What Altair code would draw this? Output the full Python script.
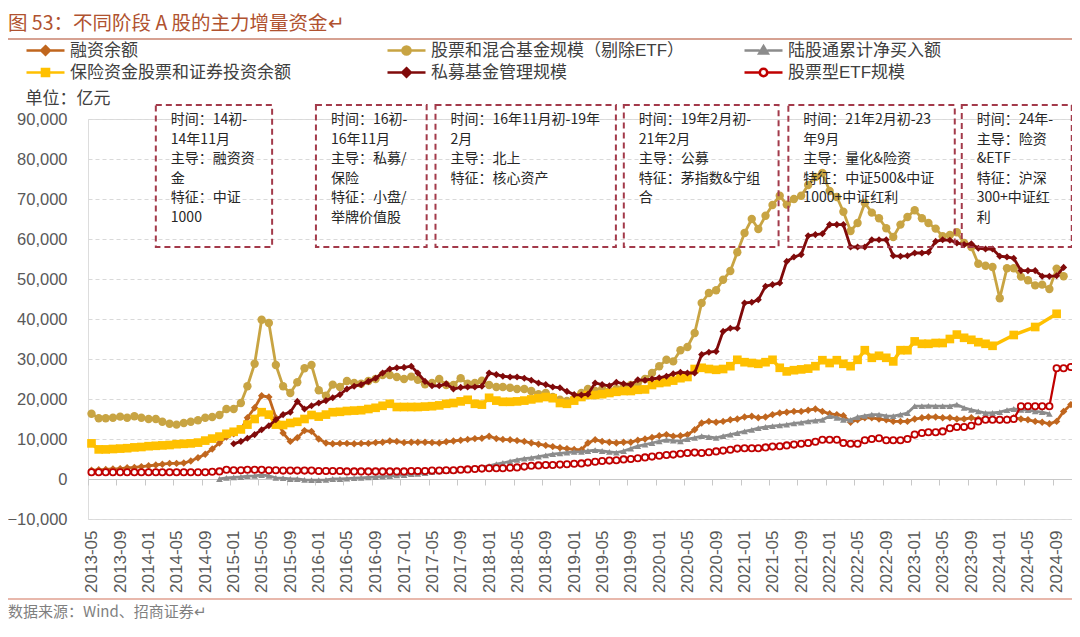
import altair as alt
import pandas as pd

CJK = "Noto Sans CJK SC"
LAT = "Liberation Sans, Noto Sans CJK SC"

# ---------------- data ----------------
months = pd.date_range("2013-05-01", "2024-11-01", freq="MS")

series_names = ["融资余额", "股票和混合基金规模（剔除ETF）", "陆股通累计净买入额",
                "保险资金股票和证券投资余额", "私募基金管理规模", "股票型ETF规模"]
series_colors = ["#C0661E", "#C8A443", "#8C8C8C", "#FFC000", "#800A0A", "#C00000"]

# values in thousand 亿元, monthly 2013-05 .. 2024-11
margin_k = [2.2, 2.3, 2.4, 2.5, 2.6, 2.8, 2.9, 3.1, 3.3, 3.5,
            3.7, 3.9, 3.9, 4.0, 4.5, 5.3, 6.2, 7.5, 9.0, 10.5,
            11.3, 12.3, 15.3, 17.8, 20.8, 20.5, 15.3, 11.5, 9.4, 10.3,
            12.1, 11.9, 10.0, 9.0, 8.8, 8.9, 8.9, 8.8, 8.9, 8.9,
            9.1, 9.2, 9.5, 9.4, 9.1, 9.2, 9.2, 9.2, 9.1, 9.0,
            9.3, 9.5, 9.7, 9.9, 10.1, 10.2, 10.7, 10.1, 9.9, 9.8,
            9.6, 9.4, 9.0, 8.7, 8.4, 8.1, 7.8, 7.6, 7.4, 7.3,
            9.0, 9.8, 9.4, 9.2, 9.0, 9.2, 9.2, 9.7, 10.0, 10.4,
            10.8, 11.1, 10.7, 10.8, 11.1, 12.3, 14.0, 14.4, 14.2, 14.4,
            14.8, 15.0, 15.5, 15.7, 15.3, 15.5, 16.1, 16.5, 16.7, 16.9,
            16.9, 17.2, 17.5, 16.9, 16.3, 16.1, 15.8, 14.2, 14.8, 15.3,
            15.3, 15.0, 14.8, 14.4, 14.4, 14.4, 15.0, 15.3, 15.5, 15.5,
            15.3, 15.3, 15.0, 15.0, 15.3, 15.0, 15.0, 15.0, 14.7, 15.0,
            15.3, 15.0, 14.8, 14.4, 14.2, 13.8, 14.4, 16.9, 18.6]

fund_k = [16.3, 15.2, 15.2, 15.3, 15.6, 15.3, 15.7, 15.3, 15.0, 15.0,
          14.3, 13.8, 13.6, 14.0, 14.3, 14.7, 15.3, 15.5, 16.0, 17.5,
          17.5, 19.0, 23.2, 28.8, 39.8, 39.0, 28.5, 23.2, 21.5, 24.2,
          27.7, 28.5, 22.2, 20.8, 23.6, 23.0, 24.5, 24.0, 23.8, 24.5,
          25.0, 26.0, 26.0, 25.5, 25.0, 25.6, 24.8, 23.7, 24.0, 25.0,
          23.5, 23.5, 25.2, 23.8, 24.0, 24.6, 23.5, 23.0, 23.0, 22.8,
          22.5, 22.5, 22.0, 21.2, 21.5, 20.5, 19.8, 19.5, 20.0, 21.5,
          22.5, 22.0, 22.5, 22.0, 22.5, 23.0, 23.5, 24.0, 25.0, 26.5,
          28.2, 29.8, 29.4, 32.2, 33.0, 36.5, 44.0, 46.5, 47.2, 49.8,
          52.0, 56.7, 61.5, 65.0, 62.5, 65.8, 68.5, 70.8, 68.6, 70.0,
          70.8, 73.5, 75.5, 76.5, 72.0, 70.5, 66.8, 62.0, 64.0, 69.0,
          66.6, 65.2, 62.7, 60.5, 63.6, 65.5, 67.2, 65.2, 64.0, 62.6,
          60.7, 61.0, 61.7, 59.0, 58.0, 53.8, 53.3, 53.0, 45.2, 52.7,
          52.7, 50.6, 49.7, 48.4, 48.6, 47.5, 52.6, 50.7, None]

hk_connect_k = [None] * 18 + [
          0.0, 0.3, 0.4, 0.5, 0.7, 0.8, 1.0, 0.8, 0.3, 0.2,
          0.0, 0.0, -0.2, -0.3, -0.3, -0.2, 0.0, 0.0, 0.1, 0.2,
          0.3, 0.4, 0.5, 0.6, 0.7, 0.9, 1.0, 1.2, 1.3, 1.5,
          1.7, 1.9, 2.0, 2.1, 2.3, 2.6, 2.8, 3.0, 3.3, 3.7,
          4.0, 4.4, 4.8, 5.1, 5.3, 5.6, 5.9, 6.2, 6.4, 6.6,
          6.8, 6.8, 7.0, 7.2, 7.0, 6.8, 6.6, 7.0, 7.6, 8.2,
          8.6, 9.0, 9.4, 9.8, 9.6, 9.4, 10.0, 10.3, 10.7, 10.5,
          10.3, 10.7, 11.1, 11.5, 11.9, 12.3, 12.7, 13.0, 13.2, 13.4,
          13.6, 13.9, 14.1, 14.4, 14.6, 14.8, 15.7, 15.3, 14.8, 14.8,
          15.5, 15.8, 16.1, 16.1, 15.8, 15.7, 16.1, 16.5, 18.2, 18.2,
          18.3, 18.2, 18.2, 18.2, 18.6, 17.8, 17.3, 16.9, 16.5, 16.5,
          16.7, 17.2, 17.5, 17.3, 17.2, 16.9, 16.7, 16.3,
          None, None, None]

insurance_k = [8.9, 7.4, 7.4, 7.5, 7.6, 7.7, 7.9, 8.0, 8.2, 8.3,
               8.4, 8.5, 8.7, 8.8, 8.9, 9.1, 9.6, 10.1, 10.6, 11.3,
               11.8, 12.4, 13.6, 15.0, 16.7, 16.1, 13.6, 13.5, 14.0, 14.3,
               15.0, 16.0, 15.6, 16.1, 16.7, 16.8, 17.0, 17.1, 17.2, 17.5,
               17.8, 18.3, 18.8, 18.0, 18.0, 18.0, 18.0, 18.1, 18.2, 18.4,
               18.8, 19.0, 19.4, 19.8, 18.8, 18.6, 20.3, 19.6, 19.3, 19.3,
               19.4, 19.6, 19.9, 20.2, 20.5, 20.2, 19.0, 18.8, 19.6, 20.5,
               21.0, 21.0, 21.2, 21.5, 21.8, 22.0, 22.0, 22.3, 22.4, 23.5,
               24.0, 24.2, 24.6, 25.2, 25.5, 27.5, 27.8, 27.5, 27.3, 27.5,
               28.2, 29.8, 29.2, 29.0, 28.8, 29.2, 29.8, 27.8, 26.9, 27.2,
               27.4, 27.6, 28.2, 29.7, 29.0, 29.7, 28.8, 28.2, 29.8, 32.2,
               30.3, 30.8, 30.3, 29.4, 32.2, 32.2, 34.4, 33.8, 33.8, 34.0,
               34.0, 35.0, 36.1, 35.3, 34.8, 34.2, 33.8, 33.3, None, None,
               36.0, None, None, 38.0, None, None, 41.3, None, None]

private_k = [None] * 20 + [
             8.8, 9.4, 10.2, 11.1, 12.3, 13.3, 14.8, 16.1, 16.7, 19.4,
             17.5, 18.3, 19.0, 19.6, 20.3, 21.1, 22.5, 23.2, 23.6, 24.4,
             25.2, 26.5, 27.5, 27.8, 27.9, 28.2, 26.5, 24.4, 23.3, 23.3,
             23.8, 22.5, 22.9, 23.0, 23.0, 23.2, 26.5, 26.1, 25.7, 25.5,
             25.5, 25.2, 24.7, 24.0, 23.6, 23.0, 22.8, 21.9, 21.1, 21.0,
             21.2, 24.0, 23.6, 23.3, 24.2, 23.8, 23.6, 24.8, 24.7, 25.0,
             25.3, 25.7, 26.3, 26.7, 26.5, 26.5, 31.1, 31.7, 31.9, 36.9,
             37.7, 37.7, 44.0, 44.2, 44.8, 48.2, 48.6, 49.0, 54.4, 55.5,
             56.1, 60.8, 61.1, 61.3, 63.6, 63.6, 63.6, 58.0, 58.0, 58.0,
             59.8, 59.8, 59.8, 55.8, 55.7, 55.8, 56.5, 56.5, 56.7, 59.4,
             59.8, 59.7, 59.0, 58.6, 58.8, 57.7, 57.5, 57.5, 55.7, 55.5,
             55.2, 52.1, 52.1, 52.1, 50.7, 50.7, 50.8, 52.9, None]

etf_k = [1.7, 1.7, 1.7, 1.7, 1.7, 1.7, 1.7, 1.7, 1.7, 1.7,
         1.7, 1.7, 1.7, 1.7, 1.7, 1.7, 1.7, 1.8, 1.9, 2.3,
         2.2, 2.2, 2.3, 2.3, 2.3, 2.2, 2.2, 2.1, 2.1, 2.1,
         2.1, 2.1, 2.0, 2.0, 2.0, 2.0, 1.9, 1.9, 1.9, 1.9,
         1.9, 1.9, 1.9, 1.9, 1.9, 2.0, 2.0, 2.0, 2.1, 2.1,
         2.2, 2.2, 2.3, 2.4, 2.5, 2.6, 2.7, 2.7, 2.7, 2.8,
         2.9, 3.1, 3.3, 3.4, 3.5, 3.5, 3.6, 3.7, 3.8, 3.9,
         4.1, 4.3, 4.5, 4.6, 4.7, 4.9, 5.0, 5.2, 5.4, 5.6,
         5.8, 6.0, 6.1, 6.3, 6.5, 6.6, 6.5, 6.7, 6.9, 7.1,
         7.3, 7.6, 7.7, 7.7, 7.7, 7.9, 8.1, 8.2, 8.4, 8.6,
         8.8, 9.0, 9.3, 9.8, 9.8, 9.8, 9.0, 8.8, 8.8, 9.7,
         10.0, 10.2, 9.7, 9.7, 9.7, 10.0, 11.1, 11.5, 11.7, 11.7,
         11.9, 12.7, 13.0, 13.0, 13.3, 14.4, 14.8, 14.8, 14.8, 14.8,
         15.0, 18.2, 18.2, 18.2, 18.2, 18.2, 27.7, 27.7, 28.0]

y_ticks = list(range(-10000, 90001, 10000))
x_label_months = months[::4]

# annotation boxes (periods as drawn in the picture)
box_start = ["2014-02-01", "2015-12-20", "2017-05-16", "2019-08-02", "2021-07-08", "2023-07-22"]
box_end = ["2015-06-15", "2017-04-08", "2019-06-29", "2021-05-27", "2023-06-22", "2024-11-05"]
box_texts = [
    "时间：14初-\n14年11月\n主导：融资资\n金\n特征：中证\n1000",
    "时间：16初-\n16年11月\n主导：私募/\n保险\n特征：小盘/\n举牌价值股",
    "时间：16年11月初-19年\n2月\n主导：北上\n特征：核心资产",
    "时间：19年2月初-\n21年2月\n主导：公募\n特征：茅指数&宁组\n合",
    "时间：21年2月初-23\n年9月\n主导：量化&险资\n特征：中证500&中证\n1000+中证红利",
    "时间：24年-\n主导：险资\n&ETF\n特征：沪深\n300+中证红\n利",
]
box_top = 93500
box_bottom = 58000

title_text = "图 53：不同阶段 A 股的主力增量资金↵"
source_text = "数据来源：Wind、招商证券↵"

# ---------------- build tables ----------------
all_vals = [margin_k, fund_k, hk_connect_k, insurance_k, private_k, etf_k]
rows = []
for name, vals in zip(series_names, all_vals):
    for d, v in zip(months, vals):
        if v is not None:
            rows.append({"date": d.strftime("%Y-%m-%d"), "series": name, "value": v * 1000})
df = pd.DataFrame(rows)

df_boxes = pd.DataFrame({"start": box_start, "end": box_end, "text": box_texts,
                         "top": [box_top] * 6, "bottom": [box_bottom] * 6})


def dt(d, day=1):
    return alt.DateTime(year=int(d.year), month=int(d.month), date=day, utc=True)


xscale = alt.Scale(type="utc", domain=[alt.DateTime(year=2013, month=4, date=16, utc=True),
                                       alt.DateTime(year=2024, month=11, date=6, utc=True)])
yscale = alt.Scale(domain=[-10000, 90000], nice=False)

main_xaxis = alt.Axis(values=[dt(d) for d in x_label_months],
                      labelExpr="utcFormat(datum.value, '%Y-%m')",
                      orient="bottom", labelAngle=-90, labelFont=LAT, labelFontSize=17,
                      labelColor="#595959", labelPadding=11, domain=False, ticks=False,
                      grid=False, title=None, labelOverlap=False)
zero_xaxis = alt.Axis(values=[dt(d - pd.DateOffset(months=1), 16) for d in x_label_months],
                      orient="bottom", labels=False, domain=True, domainColor="#C8C8C8",
                      domainWidth=1.2, ticks=True, tickSize=6, tickColor="#C8C8C8",
                      grid=False, title=None, offset=-40)
yaxis = alt.Axis(values=y_ticks, format=",.0f", labelFont=LAT, labelFontSize=16.5,
                 labelColor="#595959",
                 labelPadding=21, domain=False, ticks=False, grid=True, gridColor="#D9D9D9",
                 gridDash=[4, 3], title="单位：亿元", titleAngle=0, titleX=-63, titleY=-21,
                 titleAlign="left", titleBaseline="middle", titleFont=CJK, titleFontSize=17,
                 titleFontWeight="normal", titleColor="#404040")

# legend symbols: line + marker (custom paths), one small legend per series
legend_paths = [
    "M-3.8,0H-0.85M0.85,0H3.8M0,-0.85L0.85,0L0,0.85L-0.85,0Z",
    "M-3.8,0H-0.8M0.8,0H3.8M0.8,0A0.8,0.8,0,1,1,-0.8,0A0.8,0.8,0,1,1,0.8,0Z",
    "M-3.8,0H-0.75M0.75,0H3.8M0,-0.85L0.85,0.6L-0.85,0.6Z",
    "M-3.8,0H-0.7M0.7,0H3.8M-0.7,-0.7H0.7V0.7H-0.7Z",
    "M-3.8,0H-0.85M0.85,0H3.8M0,-0.85L0.85,0L0,0.85L-0.85,0Z",
    "M-3.8,0H-0.75M0.75,0H3.8M0.75,0A0.75,0.75,0,1,1,-0.75,0A0.75,0.75,0,1,1,0.75,0Z",
]
legend_x = [-61, 300, 657, -61, 300, 657]
legend_y = [-77, -77, -77, -55, -55, -55]

shapes = ["diamond", "circle", "triangle-up", "square", "diamond", "circle"]
sizes = [55, 70, 45, 75, 50, 40]
line_widths = [2.8, 2.8, 2.8, 3.5, 2.8, 2.2]

series_layers = []
for i, name in enumerate(series_names):
    legend = alt.Legend(
        title=None, orient="none", legendX=legend_x[i], legendY=legend_y[i], padding=0,
        labelFont=LAT, labelFontSize=17, labelColor="#404040", labelLimit=500,
        symbolType=legend_paths[i], symbolSize=100, symbolStrokeWidth=2.6,
        symbolStrokeColor=series_colors[i],
        symbolFillColor=("white" if i == 5 else series_colors[i]),
        symbolOpacity=1, symbolOffset=10, labelOffset=16,
    )
    if i == 5:
        pt = alt.OverlayMarkDef(shape="circle", size=sizes[i], filled=False, fill="white",
                                strokeWidth=1.8, opacity=1)
    else:
        pt = alt.OverlayMarkDef(shape=shapes[i], size=sizes[i], filled=True, opacity=1)
    layer = alt.Chart(df).transform_filter(alt.datum.series == name).mark_line(
        strokeWidth=line_widths[i], point=pt).encode(
        x=alt.X("date:T", scale=xscale, axis=main_xaxis),
        y=alt.Y("value:Q", scale=yscale, axis=yaxis),
        color=alt.Color("series:N", scale=alt.Scale(domain=[name], range=[series_colors[i]]),
                        legend=legend),
    )
    series_layers.append(layer)

boxes = alt.Chart(df_boxes).mark_rect(fill="transparent", stroke="#A33A4A", strokeDash=[6, 4],
                                      strokeWidth=2).encode(
    x=alt.X("start:T", scale=xscale, axis=main_xaxis), x2="end:T",
    y=alt.Y("top:Q", scale=yscale, axis=yaxis), y2="bottom:Q")

box_labels = alt.Chart(df_boxes).mark_text(align="left", baseline="top", dx=15, dy=8,
                                           fontSize=14, lineHeight=19.5, lineBreak="\n",
                                           font=CJK, color="#262626").encode(
    x=alt.X("start:T", scale=xscale, axis=main_xaxis),
    y=alt.Y("top:Q", scale=yscale, axis=yaxis), text="text:N")

deco_df = pd.DataFrame({"title": [title_text], "source": [source_text]})
title_mark = alt.Chart(deco_df).mark_text(align="left", baseline="middle", fontSize=19.5, font=CJK,
                                          color="#B0522F").encode(
    text="title:N", x=alt.value(-80), y=alt.value(-95))
source_mark = alt.Chart(deco_df).mark_text(align="left", baseline="middle", fontSize=15, font=CJK,
                                           color="#7F7F7F").encode(
    text="source:N", x=alt.value(-80), y=alt.value(493))
top_rule = alt.Chart(deco_df).mark_rule(color="#C8826E", strokeWidth=1.3).encode(
    x=alt.value(-80), x2=alt.value(984), y=alt.value(-80))
bottom_rule = alt.Chart(deco_df).mark_rule(color="#E0A090", strokeWidth=1.3).encode(
    x=alt.value(-80), x2=alt.value(984), y=alt.value(480))

main = alt.layer(*series_layers, boxes, box_labels, title_mark, source_mark,
                 top_rule, bottom_rule).resolve_scale(color="independent")

zero_df = pd.DataFrame({"date": [months[0].strftime("%Y-%m-%d"), months[-1].strftime("%Y-%m-%d")]})
zero_axis_layer = alt.Chart(zero_df).mark_point(opacity=0).encode(
    x=alt.X("date:T", scale=xscale, axis=zero_xaxis), y=alt.value(0))

chart = alt.layer(main, zero_axis_layer).resolve_axis(x="independent").properties(
    width=984, height=400,
    padding={"left": 80, "top": 111, "right": 0, "bottom": 102},
    autosize=alt.AutoSizeParams(type="none"),
).configure_view(stroke=None).configure(background="white")

chart.save("out.html", embed_options={"renderer": "svg", "actions": False})
